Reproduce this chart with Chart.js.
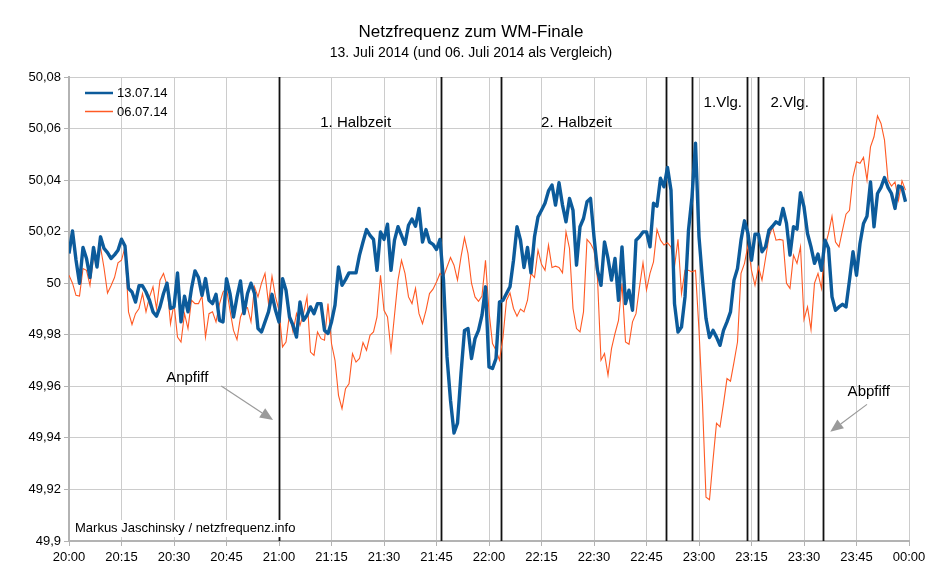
<!DOCTYPE html>
<html lang="de">

<head>
    <meta charset="UTF-8">
    <title>Netzfrequenz zum WM-Finale</title>
    <script src="https://cdn.jsdelivr.net/npm/chart.js"></script>
    <style>
        html, body {
            margin: 0;
            padding: 0;
            background: #ffffff;
        }

        #wrap {
            width: 939px;
            height: 580px;
        }
    </style>
</head>

<body>
    <div id="wrap"><canvas id="freqChart" width="939" height="580"></canvas></div>

    <script>
        // minutes after 20:00, one value per minute
        const freq130714 = [
            50.0115, 50.0203, 50.009, 50.000, 50.0139, 50.0096, 50.0022, 50.0139, 50.0063, 50.018,
            50.0135, 50.0119, 50.0096, 50.011, 50.0128, 50.0171, 50.0144, 49.998, 49.9966, 49.9927,
            49.999, 49.999, 49.9966, 49.9934, 49.9889, 49.9872, 49.9908, 49.996, 50.000, 49.9902,
            49.9908, 50.004, 49.985, 49.995, 49.9889, 49.998, 50.0048, 50.0022, 49.9953, 50.0018,
            49.9934, 49.9921, 49.9957, 49.9856, 49.985, 50.0018, 49.996, 49.9869, 49.9947, 50.0009,
            49.9882, 49.996, 50.000, 49.996, 49.9824, 49.9811, 49.985, 49.9889, 49.9957, 49.9895,
            49.985, 50.0018, 49.9973, 49.9869, 49.9837, 49.9791, 49.9927, 49.9856, 49.9876, 49.9908,
            49.9882, 49.9921, 49.9921, 49.9817, 49.9805, 49.985, 49.9915, 50.0063, 49.9992, 50.0014,
            50.004, 50.004, 50.004, 50.0109, 50.016, 50.0208, 50.0186, 50.017, 50.005, 50.0199,
            50.017, 50.0229, 50.005, 50.0167, 50.0219, 50.0186, 50.0151, 50.0225, 50.0249, 50.0221,
            50.029, 50.016, 50.0208, 50.016, 50.0151, 50.0131, 50.017, 50.0012, 49.9714, 49.9546,
            49.9419, 49.9457, 49.9649, 49.9817, 49.9824, 49.9708, 49.9785, 49.9817, 49.9876, 49.9986,
            49.9675, 49.9669, 49.9708, 49.9927, 49.9934, 49.996, 49.9986, 50.0089, 50.0219, 50.0167,
            50.0061, 50.0139, 50.004, 50.018, 50.0257, 50.0283, 50.031, 50.0358, 50.0381, 50.0303,
            50.039, 50.0303, 50.0238, 50.0329, 50.0283, 50.007, 50.0219, 50.0251, 50.0316, 50.0329,
            50.018, 50.005, 49.9992, 50.016, 50.0096, 50.0012, 50.0096, 49.9934, 50.0141, 49.9921,
            49.9973, 49.9895, 50.0167, 50.018, 50.0199, 50.0199, 50.0141, 50.031, 50.0299, 50.0407,
            50.0374, 50.0449, 50.0361, 49.9921, 49.9811, 49.983, 49.9947, 50.0206, 50.0335, 50.0543,
            50.018, 50.0012, 49.9863, 49.9789, 49.9817, 49.9791, 49.9759, 49.9817, 49.985, 49.9889,
            50.0012, 50.0057, 50.0167, 50.0242, 50.0193, 50.0089, 50.019, 50.019, 50.0122, 50.0141,
            50.0206, 50.0221, 50.0238, 50.0229, 50.029, 50.0232, 50.0109, 50.0219, 50.021, 50.0351,
            50.0296, 50.0193, 50.0141, 50.0077, 50.0113, 50.005, 50.0167, 50.0135, 49.9947, 49.9895,
            49.9908, 49.9918, 49.9908, 50.0012, 50.0122, 50.0031, 50.0154, 50.0232, 50.026, 50.0393,
            50.0219, 50.0348, 50.0372, 50.041, 50.0372, 50.0348, 50.029, 50.0377, 50.0372, 50.0316
        ];

        const freq060714 = [
            50.0031, 50.000, 49.9953, 49.995, 50.0057, 50.005, 49.9992, 50.010, 50.008, 50.014,
            50.006, 49.9962, 49.999, 50.0022, 50.0079, 50.0089, 50.014, 49.9889, 49.984, 49.9882,
            49.9902, 49.996, 49.9889, 49.9947, 49.9986, 49.9902, 50.0012, 50.0038, 49.9992, 49.9843,
            49.9921, 49.9791, 49.9772, 49.9882, 49.9824, 49.9934, 49.9921, 49.9921, 49.995, 49.9791,
            49.9882, 49.9889, 49.985, 49.992, 49.9966, 49.998, 49.9895, 49.9817, 49.9781, 49.9869,
            49.9902, 49.9905, 49.985, 49.9986, 49.9947, 50.000, 50.0038, 49.9921, 50.0027, 49.9947,
            49.9895, 49.9753, 49.9772, 49.9882, 49.9811, 49.9882, 49.9837, 49.9882, 49.9947, 49.9733,
            49.972, 49.9811, 49.9785, 49.9779, 49.9921, 49.9766, 49.9701, 49.9565, 49.9513, 49.9591,
            49.961, 49.9727, 49.9694, 49.9708, 49.977, 49.974, 49.9798, 49.9811, 49.9869, 50.0031,
            49.9895, 49.9869, 49.974, 49.9876, 50.0012, 50.0089, 50.0038, 49.9947, 49.9921, 49.998,
            49.9882, 49.9843, 49.9895, 49.996, 49.9977, 50.0005, 50.0038, 50.0025, 50.0063, 50.01,
            50.007, 50.0012, 50.0102, 50.0177, 50.0115, 50.000, 49.9947, 49.993, 49.995, 50.0089,
            49.989, 49.9766, 49.974, 49.9701, 49.9791, 49.9934, 49.9962, 49.9902, 49.9872, 49.99,
            49.9889, 49.9934, 50.0038, 50.0022, 50.0128, 50.0073, 50.005, 50.0148, 50.0061, 50.0066,
            50.0061, 50.004, 50.0199, 50.0135, 49.9902, 49.9824, 49.9811, 49.9889, 50.017, 50.0154,
            50.0128, 50.0018, 49.9701, 49.9727, 49.9643, 49.9746, 49.9805, 49.9856, 50.000, 49.9772,
            49.9763, 49.985, 49.9882, 49.9986, 50.0079, 49.9974, 50.0038, 50.0083, 50.0208, 50.0167,
            50.0148, 50.0157, 50.0141, 50.0063, 50.017, 49.996, 50.005, 50.005, 50.0044, 50.005,
            49.9817, 49.9533, 49.917, 49.916, 49.9313, 49.9457, 49.9443, 49.9533, 49.963, 49.962,
            49.9694, 49.9772, 50.0038, 50.0077, 50.0148, 50.005, 49.9992, 50.0063, 50.0012, 50.0096,
            50.018, 50.0219, 50.0167, 50.017, 50.0167, 50.000, 49.998, 50.0109, 50.0077, 50.0141,
            49.9859, 49.9908, 49.982, 50.000, 50.0038, 49.998, 50.0141, 50.0193, 50.026, 50.016,
            50.0141, 50.0206, 50.0268, 50.0283, 50.0413, 50.0471, 50.0465, 50.0488, 50.04, 50.0529,
            50.0568, 50.0649, 50.062, 50.0555, 50.04, 50.0377, 50.0393, 50.0322, 50.0397, 50.0361
        ];

        const seriesLabels = ['13.07.14', '06.07.14'];

        // game events (minutes after 20:00)
        const eventMinutes = [60, 106.3, 123.5, 170.7, 178.1, 193.7, 196.9, 215.4];

        // period labels: [text, minute, frequency]
        const periodLabels = [
            ['1. Halbzeit', 81.9, 50.0624],
            ['2. Halbzeit', 145, 50.0624],
            ['1.Vlg.', 186.8, 50.0698],
            ['2.Vlg.', 205.9, 50.0698]
        ];

        // arrow notes: [text, textMin, textFreq, fromMin, fromFreq, toMin, toFreq]
        const arrowNotes = [
            ['Anpfiff', 33.8, 49.9632, 43.5, 49.9601, 58.3, 49.9469],
            ['Abpfiff', 228.5, 49.9578, 228.0, 49.9530, 217.5, 49.9424]
        ];

        const TITLE = 'Netzfrequenz zum WM-Finale';
        const SUBTITLE = '13. Juli 2014 (und 06. Juli 2014 als Vergleich)';

        const FONT = '"Liberation Sans", Arial, Helvetica, sans-serif';
        const BLUE = '#0c5b9b';
        const ORANGE = '#ff5a24';

        function toPoints(values) {
            return values.map((v, i) => ({ x: i, y: v }));
        }

        function clockLabel(min) {
            const t = (20 * 60 + min) % 1440;
            const h = Math.floor(t / 60);
            const m = t % 60;
            return String(h).padStart(2, '0') + ':' + String(m).padStart(2, '0');
        }

        const annotations = {
            id: 'annotations',
            beforeDatasetsDraw(chart) {
                const ctx = chart.ctx;
                const xs = chart.scales.x;
                const area = chart.chartArea;
                ctx.save();
                ctx.strokeStyle = '#111111';
                ctx.lineWidth = 1.8;
                eventMinutes.forEach(m => {
                    const x = Math.round(xs.getPixelForValue(m)) + 0.5;
                    ctx.beginPath();
                    ctx.moveTo(x, area.top);
                    ctx.lineTo(x, area.bottom);
                    ctx.stroke();
                });
                ctx.restore();
            },
            afterDatasetsDraw(chart) {
                const ctx = chart.ctx;
                const xs = chart.scales.x;
                const ys = chart.scales.y;
                const area = chart.chartArea;
                ctx.save();

                // title block (centred like the original, slightly right of canvas middle)
                ctx.fillStyle = '#000000';
                ctx.textAlign = 'center';
                ctx.textBaseline = 'alphabetic';
                ctx.font = '17px ' + FONT;
                ctx.fillText(TITLE, 471, 36.5);
                ctx.font = '14px ' + FONT;
                ctx.fillText(SUBTITLE, 471, 57);

                // period labels
                ctx.font = '15px ' + FONT;
                ctx.textBaseline = 'middle';
                periodLabels.forEach(p => {
                    ctx.fillText(p[0], xs.getPixelForValue(p[1]), ys.getPixelForValue(p[2]));
                });

                // arrows
                arrowNotes.forEach(a => {
                    ctx.fillStyle = '#000000';
                    ctx.fillText(a[0], xs.getPixelForValue(a[1]), ys.getPixelForValue(a[2]));
                    const x1 = xs.getPixelForValue(a[3]), y1 = ys.getPixelForValue(a[4]);
                    const x2 = xs.getPixelForValue(a[5]), y2 = ys.getPixelForValue(a[6]);
                    const ang = Math.atan2(y2 - y1, x2 - x1);
                    const head = 13, half = 5.5;
                    const bx = x2 - head * Math.cos(ang), by = y2 - head * Math.sin(ang);
                    ctx.strokeStyle = '#9a9a9a';
                    ctx.lineWidth = 1.2;
                    ctx.beginPath();
                    ctx.moveTo(x1, y1);
                    ctx.lineTo(bx, by);
                    ctx.stroke();
                    ctx.fillStyle = '#9a9a9a';
                    ctx.beginPath();
                    ctx.moveTo(x2, y2);
                    ctx.lineTo(bx + half * Math.sin(ang), by - half * Math.cos(ang));
                    ctx.lineTo(bx - half * Math.sin(ang), by + half * Math.cos(ang));
                    ctx.closePath();
                    ctx.fill();
                });

                // legend inside the plot
                ctx.font = '13px ' + FONT;
                ctx.textAlign = 'left';
                chart.data.datasets.forEach((ds, i) => {
                    const y = area.top + 16 + i * 18.5;
                    ctx.strokeStyle = ds.borderColor;
                    ctx.lineWidth = i === 0 ? 2.5 : 1.5;
                    ctx.beginPath();
                    ctx.moveTo(area.left + 16, y);
                    ctx.lineTo(area.left + 44, y);
                    ctx.stroke();
                    ctx.fillStyle = '#000000';
                    ctx.fillText(ds.label, area.left + 48, y + 0.5);
                });

                // credit with white box
                const credit = 'Markus Jaschinsky / netzfrequenz.info';
                ctx.font = '13px ' + FONT;
                const w = ctx.measureText(credit).width;
                ctx.fillStyle = '#ffffff';
                ctx.fillRect(area.left + 4, area.bottom - 21, w + 4, 17);
                ctx.fillStyle = '#000000';
                ctx.fillText(credit, area.left + 6, area.bottom - 12.5);

                ctx.restore();
            }
        };

        new Chart(document.getElementById('freqChart'), {
            type: 'line',
            data: {
                datasets: [
                    {
                        label: seriesLabels[0],
                        data: toPoints(freq130714),
                        borderColor: BLUE,
                        borderWidth: 3.4,
                        pointRadius: 0,
                        tension: 0,
                        fill: false,
                        borderJoinStyle: 'round'
                    },
                    {
                        label: seriesLabels[1],
                        data: toPoints(freq060714),
                        borderColor: ORANGE,
                        borderWidth: 1.1,
                        pointRadius: 0,
                        tension: 0,
                        fill: false
                    }
                ]
            },
            options: {
                responsive: false,
                animation: false,
                events: [],
                layout: { padding: { left: 0, right: 30, top: 77, bottom: 0 } },
                scales: {
                    x: {
                        type: 'linear',
                        min: 0,
                        max: 240,
                        afterFit(scale) { scale.height = 39; },
                        ticks: {
                            stepSize: 15,
                            padding: 4,
                            color: '#000000',
                            font: { family: FONT, size: 13 },
                            maxRotation: 0,
                            callback: v => clockLabel(v)
                        },
                        grid: { color: '#cccccc', lineWidth: 1, tickLength: 5, tickColor: '#b3b3b3' },
                        border: { color: '#b3b3b3', width: 2 }
                    },
                    y: {
                        min: 49.9,
                        max: 50.08,
                        afterFit(scale) { scale.width = 69; },
                        ticks: {
                            stepSize: 0.02,
                            padding: 3,
                            color: '#000000',
                            font: { family: FONT, size: 13 },
                            callback: v => String(Number(v.toFixed(2))).replace('.', ',')
                        },
                        grid: { color: '#cccccc', lineWidth: 1, tickLength: 5, tickColor: '#b3b3b3' },
                        border: { color: '#b3b3b3', width: 2 }
                    }
                },
                plugins: {
                    legend: { display: false },
                    tooltip: { enabled: false },
                    title: { display: false },
                    subtitle: { display: false }
                }
            },
            plugins: [annotations]
        });
    </script>
</body>

</html>
